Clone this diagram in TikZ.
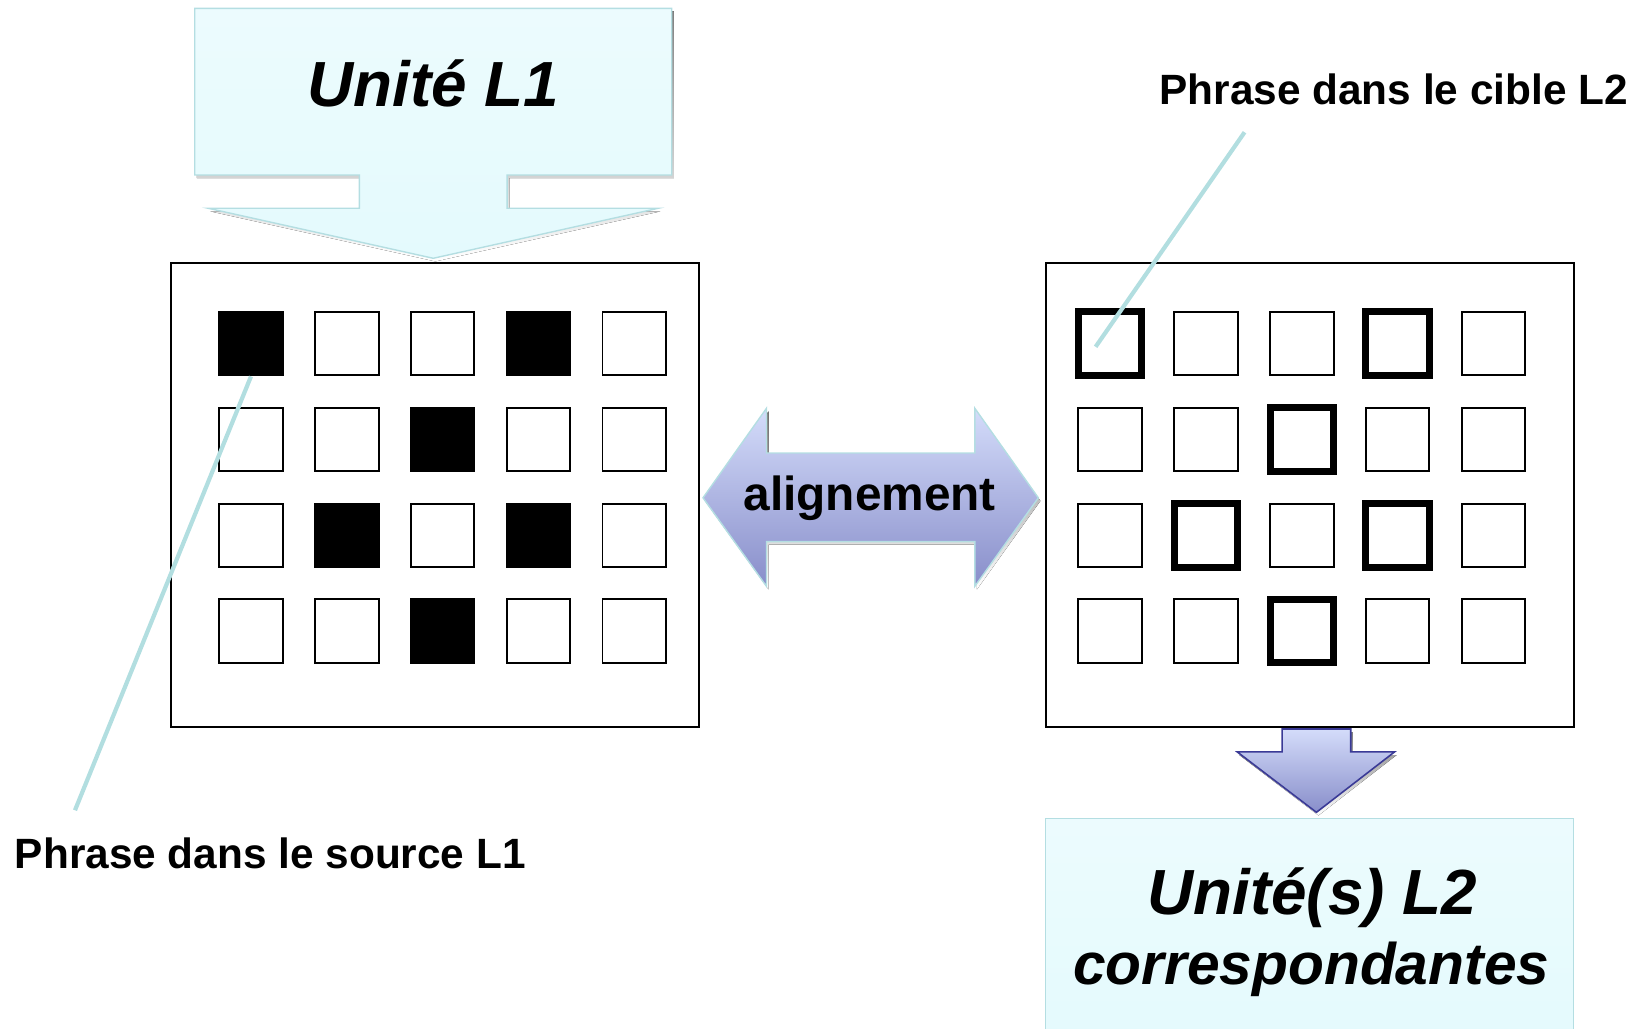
\documentclass[tikz,border=0pt]{standalone}
\usepackage{fontspec}
\setmainfont{Liberation Sans}

\definecolor{unitfill}{RGB}{228,250,253}
\definecolor{unitedge}{RGB}{180,222,226}
\definecolor{pinline}{RGB}{178,222,224}
\definecolor{aligntop}{RGB}{212,220,250}
\definecolor{alignbot}{RGB}{136,142,202}
\definecolor{downedge}{RGB}{58,58,150}
\definecolor{shade}{RGB}{150,150,150}

\tikzset{
  cell/.style={draw, line width=1.1pt, minimum size=1.27cm, inner sep=0pt},
  hit/.style={cell, fill=black},
  hitframe/.style={cell, line width=4pt},
  panel/.style={draw, line width=1.1pt, minimum width=10.56cm, minimum height=9.27cm},
  unitbox/.style={draw=unitedge, line width=0.8pt, top color=unitfill!70!white, bottom color=unitfill},
  alignshape/.style={draw=unitedge, line width=0.8pt, top color=aligntop, bottom color=alignbot},
  downshape/.style={draw=downedge, line width=0.9pt, top color=aligntop, bottom color=alignbot},
  label/.style={font=\bfseries\fontsize{24.1}{28}\selectfont, inner sep=0pt},
  unit/.style={font=\bfseries\itshape\fontsize{36.3}{42}\selectfont, inner sep=0pt},
  pin/.style={draw=pinline, line width=2.4pt},
}

\begin{document}
\begin{tikzpicture}[x=0.020829cm, y=-0.020829cm]
\useasboundingbox (0,0) rectangle (1568,988);

% unite source
\fill[shade, shift={(2,3)}] (187,8) -- (645,8) -- (645,168) -- (487,168) -- (487,200) -- (632,200) -- (416,248) -- (200,200) -- (345,200) -- (345,168) -- (187,168) -- cycle;
\path[unitbox] (187,8) -- (645,8) -- (645,168) -- (487,168) -- (487,200) -- (632,200) -- (416,248) -- (200,200) -- (345,200) -- (345,168) -- (187,168) -- cycle;
\node[unit, anchor=base] (unitL1) at (416,102) {Unité L1};

% panneau source
\node[panel] (srcpanel) at (417.5,475.5) {};
\foreach \r in {1,...,4}
  \foreach \c in {1,...,5}
    \node[cell] (s\r\c) at ({241+92*(\c-1)},{330+92*(\r-1)}) {};
\foreach \r/\c in {1/1,1/4,2/3,3/2,3/4,4/3}
  \node[hit] at (s\r\c) {};

% panneau cible
\node[panel] (tgtpanel) at (1257.5,475.5) {};
\foreach \r in {1,...,4}
  \foreach \c in {1,...,5}
    \node[cell] (t\r\c) at ({1066+92*(\c-1)},{330+92*(\r-1)}) {};
\foreach \r/\c in {1/1,1/4,2/3,3/2,3/4,4/3}
  \node[hitframe] at (t\r\c) {};

% alignement
\fill[shade, shift={(2,3)}] (675,478) -- (736,392) -- (736,435) -- (936,435) -- (936,392) -- (997,478) -- (936,563) -- (936,520) -- (736,520) -- (736,563) -- cycle;
\path[alignshape] (675,478) -- (736,392) -- (736,435) -- (936,435) -- (936,392) -- (997,478) -- (936,563) -- (936,520) -- (736,520) -- (736,563) -- cycle;
\node[font=\bfseries\fontsize{27.2}{32}\selectfont, inner sep=0pt, anchor=base] (align) at (835,490) {alignement};

% fleche vers le bas
\fill[shade, shift={(2,3)}] (1231,700) -- (1297,700) -- (1297,722) -- (1339,722) -- (1264,780) -- (1188,722) -- (1231,722) -- cycle;
\path[downshape] (1231,700) -- (1297,700) -- (1297,722) -- (1339,722) -- (1264,780) -- (1188,722) -- (1231,722) -- cycle;

% unites cibles
\path[unitbox] (1004,786) rectangle (1511,1000);
\node[unit, anchor=base] (unitL2) at (1260,878) {Unité(s) L2};
\node[unit, font=\bfseries\itshape\fontsize{33.4}{40}\selectfont, anchor=base] (unitL2b) at (1259,945) {correspondantes};

% etiquettes
\node[label, anchor=base west] (srclabel) at (14,834) {Phrase dans le source L1};
\node[label, anchor=base west] (tgtlabel) at (1113,100) {Phrase dans le cible L2};
\coordinate (srcpin) at (72,778);
\coordinate (tgtpin) at (1195,127);
\coordinate (tgtdot) at (1052,333);
\draw[pin] (s11.south) -- (srcpin);
\draw[pin] (tgtdot) -- (tgtpin);
\end{tikzpicture}
\end{document}
